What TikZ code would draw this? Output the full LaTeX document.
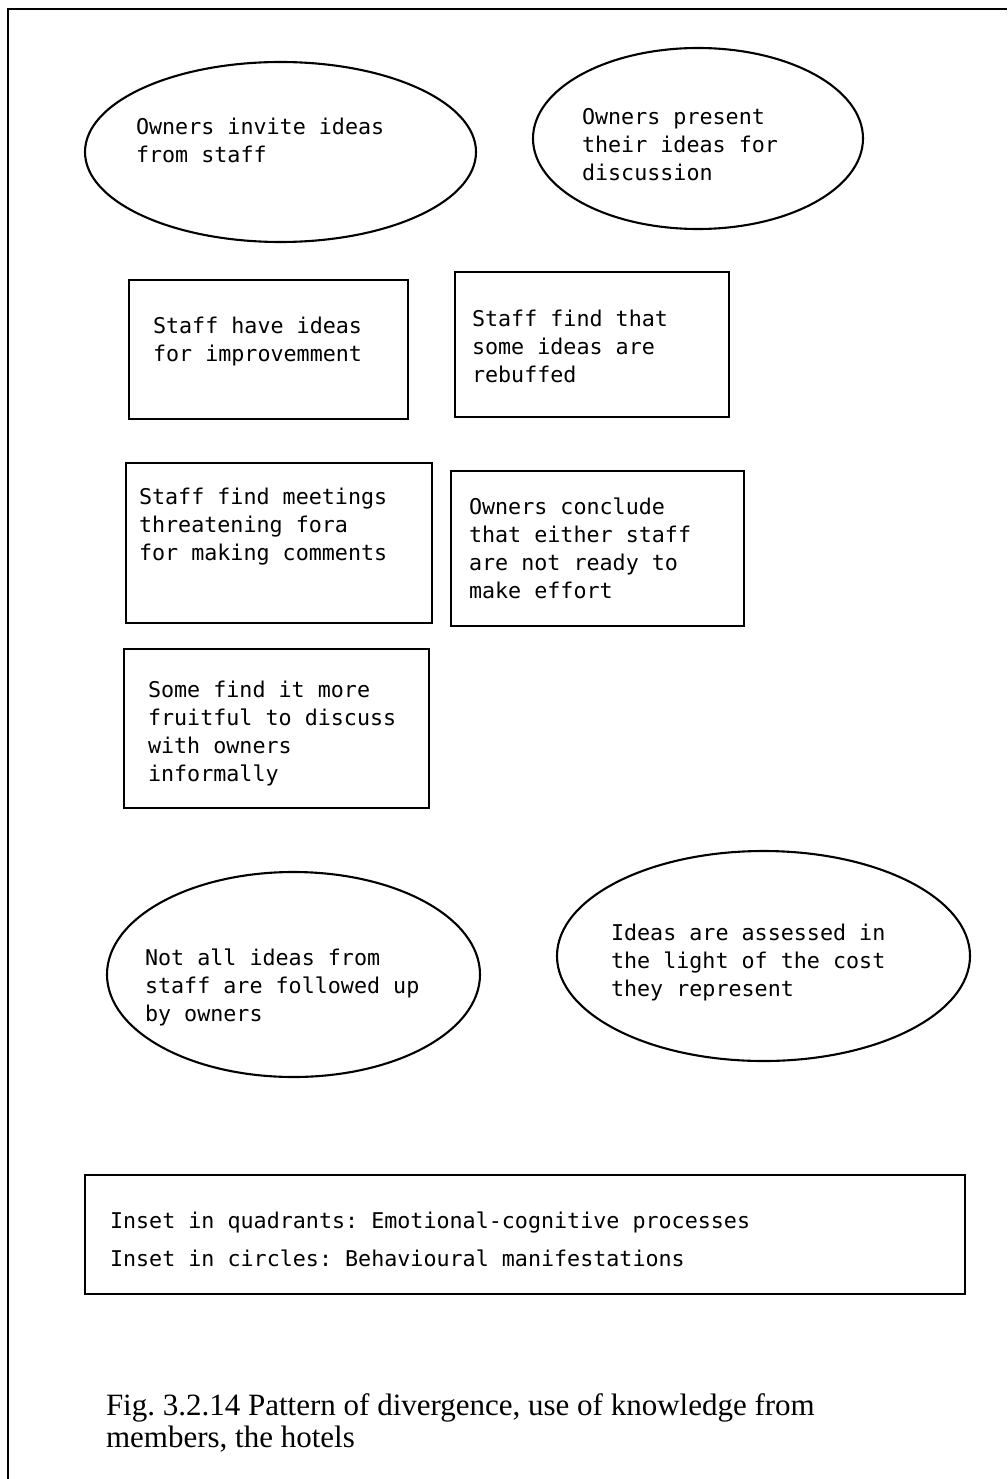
\documentclass[tikz,border=0pt]{standalone}
\usepackage{fontspec}
\setmainfont{Liberation Serif}
\newfontfamily\monof{DejaVu Sans Mono}
\usetikzlibrary{shapes.geometric}
\frenchspacing
\tikzset{
  shapeline/.style={draw=black, line width=2.1pt, inner sep=0pt, outer sep=0pt},
  oval/.style={shapeline, ellipse},
  quad/.style={shapeline, rectangle},
  txt/.style={anchor=base west, align=left, inner sep=0pt, outer sep=0pt,
    font=\frenchspacing\monof\fontsize{21.7}{28}\selectfont},
  legtxt/.style={anchor=base west, inner sep=0pt, outer sep=0pt,
    font=\frenchspacing\monof\fontsize{21.7}{28}\selectfont},
  captxt/.style={anchor=base west, align=left, inner sep=0pt, outer sep=0pt,
    font=\frenchspacing\fontsize{31}{32}\selectfont},
}
\begin{document}
\begin{tikzpicture}[x=1pt,y=-1pt]
\path[use as bounding box] (0,0) rectangle (1007,1479);
% frame
\coordinate (fbl) at (8,1479);
\coordinate (ftl) at (8,9);
\coordinate (ftr) at (1007,9);
\draw[line width=2.1pt] (fbl) -- (ftl) -- (ftr);

% ellipses (behavioural manifestations)
\node[oval, minimum width=391pt, minimum height=180pt] (e1) at (280.5,152) {};
\node[txt] (t1) at (136,163) {Owners invite ideas\\from staff};

\node[oval, minimum width=330pt, minimum height=181pt] (e2) at (698,138.5) {};
\node[txt] (t2) at (582,181) {Owners present\\their ideas for\\discussion};

% boxes (emotional-cognitive processes)
\node[quad, minimum width=279pt, minimum height=139pt] (b1) at (268.5,349.5) {};
\node[txt] (t3) at (153,361) {Staff have ideas\\for improvemment};

\node[quad, minimum width=274pt, minimum height=145pt] (b2) at (592,344.5) {};
\node[txt] (t4) at (472,382) {Staff find that\\some ideas are\\rebuffed};

\node[quad, minimum width=306pt, minimum height=160pt] (b3) at (279,543) {};
\node[txt] (t5) at (139,560) {Staff find meetings\\threatening fora\\for making comments};

\node[quad, minimum width=293pt, minimum height=155pt] (b4) at (597.5,548.5) {};
\node[txt] (t6) at (469,598) {Owners conclude\\that either staff\\are not ready to\\make effort};

\node[quad, minimum width=305pt, minimum height=159pt] (b5) at (276.5,728.5) {};
\node[txt] (t7) at (148,781) {Some find it more\\fruitful to discuss\\with owners\\informally};

\node[oval, minimum width=373pt, minimum height=205pt] (e3) at (293.5,974.5) {};
\node[txt] (t8) at (145,1021) {Not all ideas from\\staff are followed up\\by owners};

\node[oval, minimum width=413pt, minimum height=210pt] (e4) at (763.5,956) {};
\node[txt] (t9) at (611,996) {Ideas are assessed in\\the light of the cost\\they represent};

% legend
\node[quad, minimum width=880pt, minimum height=119pt] (leg) at (525,1234.5) {};
\node[legtxt] (l1) at (110,1228) {Inset in quadrants: Emotional-cognitive processes};
\node[legtxt] (l2) at (110,1266) {Inset in circles: Behavioural manifestations};

% caption
\node[captxt] (cap) at (106,1447) {Fig. 3.2.14 Pattern of divergence, use of knowledge from\\members, the hotels};
\end{tikzpicture}
\end{document}
